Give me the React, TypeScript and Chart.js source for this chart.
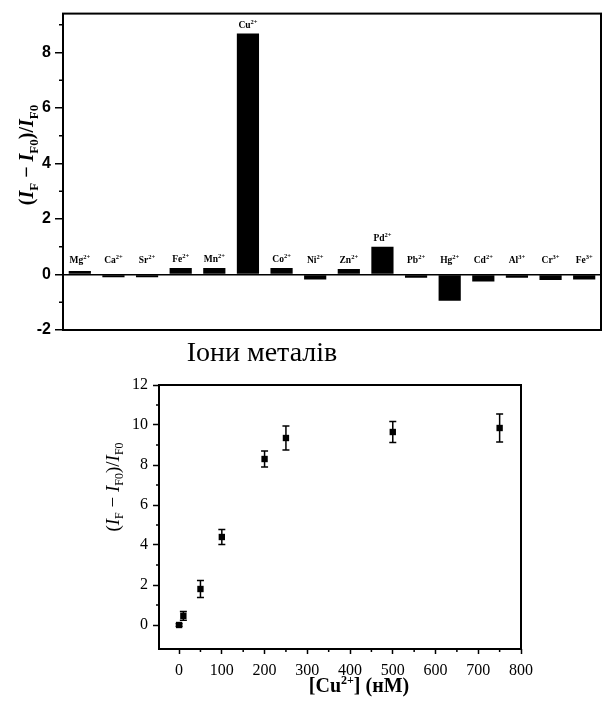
import React, { useEffect, useRef } from "react";
import { Chart, registerables } from "chart.js";
Chart.register(...registerables);

// ---------- Data: top chart (selectivity) ----------
const ionSymbols = ["Mg", "Ca", "Sr", "Fe", "Mn", "Cu", "Co", "Ni", "Zn", "Pd", "Pb", "Hg", "Cd", "Al", "Cr", "Fe"];
const ionCharges = ["2+", "2+", "2+", "2+", "2+", "2+", "2+", "2+", "2+", "2+", "2+", "2+", "2+", "3+", "3+", "3+"];
const ionResponse = [0.13, -0.1, -0.1, 0.23, 0.23, 8.68, 0.23, -0.18, 0.2, 1.0, -0.12, -0.95, -0.25, -0.12, -0.2, -0.18];
const topYTicks = [-2, 0, 2, 4, 6, 8];
const topYMinor = [-1, 1, 3, 5, 7, 9];

// ---------- Data: bottom chart (titration) ----------
const cuConc = [0, 10, 50, 100, 200, 250, 500, 750];
const cuResponse = [0, 0.46, 1.8, 4.4, 8.3, 9.35, 9.65, 9.85];
const cuError = [0.06, 0.22, 0.42, 0.37, 0.4, 0.6, 0.53, 0.7];
const bottomXTicks = [0, 100, 200, 300, 400, 500, 600, 700, 800];
const bottomXMinor = [50, 150, 250, 350, 450, 550, 650, 750];
const bottomYTicks = [0, 2, 4, 6, 8, 10, 12];
const bottomYMinor = [1, 3, 5, 7, 9, 11];

const SERIF = "'Liberation Serif', 'Times New Roman', serif";
const SANS = "'Liberation Sans', Arial, sans-serif";

type Seg = { t: string; font: string; dy?: number };

function drawRich(ctx: CanvasRenderingContext2D, segs: Seg[], x: number, y: number, rot: number) {
  ctx.save();
  ctx.translate(x, y);
  ctx.rotate(rot);
  ctx.textAlign = "left";
  ctx.textBaseline = "alphabetic";
  ctx.fillStyle = "#000";
  let total = 0;
  const widths = segs.map((s) => {
    ctx.font = s.font;
    const w = ctx.measureText(s.t).width;
    total += w;
    return w;
  });
  let cx = -total / 2;
  segs.forEach((s, i) => {
    ctx.font = s.font;
    ctx.fillText(s.t, cx, s.dy || 0);
    cx += widths[i];
  });
  ctx.restore();
}

function yTitleSegs(size: number, bold: boolean): Seg[] {
  const b = bold ? "bold " : "";
  const sub = Math.round(size * 0.65);
  const base = size * 0.35;
  const subDy = base + size * 0.25;
  return [
    { t: "(", font: `${b}${size}px ${SERIF}`, dy: base },
    { t: "I", font: `${b}italic ${size}px ${SERIF}`, dy: base },
    { t: "F", font: `${b}${sub}px ${SERIF}`, dy: subDy },
    { t: " \u2212 ", font: `${b}${size}px ${SERIF}`, dy: base },
    { t: "I", font: `${b}italic ${size}px ${SERIF}`, dy: base },
    { t: "F0", font: `${b}${sub}px ${SERIF}`, dy: subDy },
    { t: ")/", font: `${b}${size}px ${SERIF}`, dy: base },
    { t: "I", font: `${b}italic ${size}px ${SERIF}`, dy: base },
    { t: "F0", font: `${b}${sub}px ${SERIF}`, dy: subDy },
  ];
}

function framePlugin(id: string) {
  return {
    id,
    afterDraw(chart: any) {
      const { ctx, chartArea: a } = chart;
      ctx.save();
      ctx.strokeStyle = "#000";
      ctx.lineWidth = 2;
      ctx.strokeRect(a.left, a.top, a.right - a.left, a.bottom - a.top);
      ctx.restore();
    },
  };
}

function minorTickPlugin(id: string, xMinor: number[], yMinor: number[], len: number) {
  return {
    id,
    afterDraw(chart: any) {
      const { ctx, chartArea: a, scales } = chart;
      ctx.save();
      ctx.strokeStyle = "#000";
      ctx.lineWidth = 1.5;
      ctx.beginPath();
      yMinor.forEach((v) => {
        const p = scales.y.getPixelForValue(v);
        ctx.moveTo(a.left - len, p);
        ctx.lineTo(a.left, p);
      });
      xMinor.forEach((v) => {
        const p = scales.x.getPixelForValue(v);
        ctx.moveTo(p, a.bottom);
        ctx.lineTo(p, a.bottom + len);
      });
      ctx.stroke();
      ctx.restore();
    },
  };
}

function TopChart() {
  const ref = useRef<HTMLCanvasElement>(null);
  useEffect(() => {
    const labels = ionSymbols.map((s, i) => s + ionCharges[i]);
    const labelPlugin = {
      id: "ionLabels",
      afterDatasetsDraw(chart: any) {
        const { ctx, scales } = chart;
        const meta = chart.getDatasetMeta(0);
        meta.data.forEach((el: any, i: number) => {
          const v = ionResponse[i];
          const y = scales.y.getPixelForValue(Math.max(v, 0.2)) - 9;
          drawRich(
            ctx,
            [
              { t: ionSymbols[i], font: `bold 9.5px ${SERIF}`, dy: 3 },
              { t: ionCharges[i], font: `bold 6.5px ${SERIF}`, dy: -1 },
            ],
            el.x,
            y,
            0
          );
        });
      },
    };
    const titlesPlugin = {
      id: "topTitles",
      afterDraw(chart: any) {
        const { ctx } = chart;
        drawRich(ctx, yTitleSegs(20, true), 26, 155, -Math.PI / 2);
        ctx.save();
        ctx.fillStyle = "#000";
        ctx.font = `28px ${SERIF}`;
        ctx.textAlign = "center";
        ctx.textBaseline = "middle";
        ctx.fillText("Іони металів", 262, 354);
        ctx.restore();
      },
    };
    const chart = new Chart(ref.current as HTMLCanvasElement, {
      type: "bar",
      data: {
        labels,
        datasets: [
          {
            data: ionResponse,
            backgroundColor: "#000",
            borderWidth: 0,
            barPercentage: 0.66,
            categoryPercentage: 1,
          },
        ],
      },
      options: {
        animation: false,
        responsive: false,
        layout: { padding: { left: 0, top: 13, right: 2, bottom: 0 } },
        plugins: { legend: { display: false }, tooltip: { enabled: false } },
        scales: {
          x: {
            grid: { display: false },
            ticks: { display: false },
            border: { display: false },
            afterFit: (s: any) => {
              s.height = 40;
            },
          },
          y: {
            min: -2,
            max: 9.4,
            afterBuildTicks: (s: any) => {
              s.ticks = topYTicks.map((v) => ({ value: v }));
            },
            afterFit: (s: any) => {
              s.width = 63;
            },
            ticks: {
              font: { family: SANS, size: 16, weight: "bold" },
              color: "#000",
              padding: 4,
            },
            grid: {
              color: (c: any) => (c.tick && c.tick.value === 0 ? "#000" : "rgba(0,0,0,0)"),
              lineWidth: 1.5,
              tickColor: "#000",
              tickLength: 8,
              tickWidth: 1.5,
            },
            border: { display: false },
          },
        },
      } as any,
      plugins: [labelPlugin, titlesPlugin, framePlugin("topFrame"), minorTickPlugin("topMinor", [], topYMinor, 4)],
    });
    return () => chart.destroy();
  }, []);
  return <canvas ref={ref} width={603} height={370} style={{ display: "block", width: 603, height: 370 }} />;
}

function BottomChart() {
  const ref = useRef<HTMLCanvasElement>(null);
  useEffect(() => {
    const errorPlugin = {
      id: "errorBars",
      beforeDatasetsDraw(chart: any) {
        const { ctx, scales } = chart;
        ctx.save();
        ctx.strokeStyle = "#000";
        ctx.lineWidth = 1.5;
        ctx.beginPath();
        cuConc.forEach((c, i) => {
          const x = scales.x.getPixelForValue(c);
          const yt = scales.y.getPixelForValue(cuResponse[i] + cuError[i]);
          const yb = scales.y.getPixelForValue(cuResponse[i] - cuError[i]);
          ctx.moveTo(x, yt);
          ctx.lineTo(x, yb);
          ctx.moveTo(x - 3.5, yt);
          ctx.lineTo(x + 3.5, yt);
          ctx.moveTo(x - 3.5, yb);
          ctx.lineTo(x + 3.5, yb);
        });
        ctx.stroke();
        ctx.restore();
      },
    };
    const titlesPlugin = {
      id: "bottomTitles",
      afterDraw(chart: any) {
        const { ctx } = chart;
        drawRich(ctx, yTitleSegs(19, false), 112, 117, -Math.PI / 2);
        drawRich(
          ctx,
          [
            { t: "[Cu", font: `bold 20px ${SERIF}`, dy: 7 },
            { t: "2+", font: `bold 12px ${SERIF}`, dy: -1 },
            { t: "] (нМ)", font: `bold 20px ${SERIF}`, dy: 7 },
          ],
          359,
          315,
          0
        );
      },
    };
    const chart = new Chart(ref.current as HTMLCanvasElement, {
      type: "scatter",
      data: {
        datasets: [
          {
            data: cuConc.map((x, i) => ({ x, y: cuResponse[i] })),
            pointStyle: "rect",
            pointRadius: 4.5,
            backgroundColor: "#000",
            borderColor: "#000",
            borderWidth: 0,
          },
        ],
      },
      options: {
        animation: false,
        responsive: false,
        layout: { padding: { left: 0, top: 15, right: 82, bottom: 0 } },
        plugins: { legend: { display: false }, tooltip: { enabled: false } },
        scales: {
          x: {
            type: "linear",
            min: -47,
            max: 800,
            afterBuildTicks: (s: any) => {
              s.ticks = bottomXTicks.map((v) => ({ value: v }));
            },
            afterFit: (s: any) => {
              s.height = 60;
            },
            ticks: {
              font: { family: SERIF, size: 16 },
              color: "#000",
              padding: 7,
              maxRotation: 0,
              autoSkip: false,
            },
            grid: { drawOnChartArea: false, tickLength: 5, tickColor: "#000", tickWidth: 1.5 },
            border: { display: false },
          },
          y: {
            min: -1.2,
            max: 12,
            afterBuildTicks: (s: any) => {
              s.ticks = bottomYTicks.map((v) => ({ value: v }));
            },
            afterFit: (s: any) => {
              s.width = 159;
            },
            ticks: {
              font: { family: SERIF, size: 16 },
              color: "#000",
              padding: 5,
            },
            grid: { drawOnChartArea: false, tickLength: 6, tickColor: "#000", tickWidth: 1.5 },
            border: { display: false },
          },
        },
      } as any,
      plugins: [errorPlugin, titlesPlugin, framePlugin("bottomFrame"), minorTickPlugin("bottomMinor", bottomXMinor, bottomYMinor, 3)],
    });
    return () => chart.destroy();
  }, []);
  return <canvas ref={ref} width={603} height={339} style={{ display: "block", width: 603, height: 339 }} />;
}

export default function App() {
  return (
    <div style={{ position: "absolute", left: 0, top: 0, width: 603, height: 709, background: "#fff" }}>
      <TopChart />
      <BottomChart />
    </div>
  );
}
